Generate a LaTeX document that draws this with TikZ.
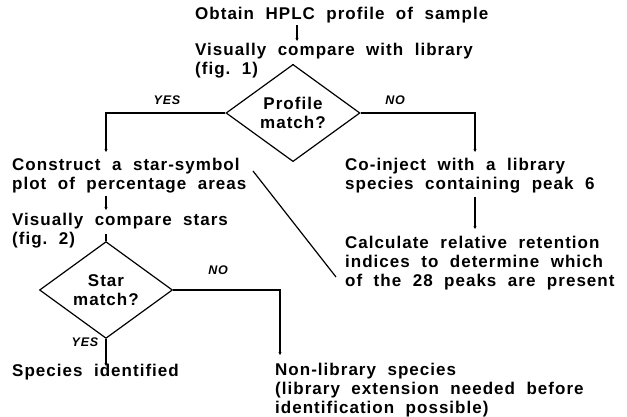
\documentclass[tikz,border=0pt]{standalone}
\usepackage{fontspec}
\setmainfont{Liberation Sans}[WordSpace=2.0, LetterSpace=6]
\usetikzlibrary{shapes.geometric,arrows.meta}
\begin{document}
\begin{tikzpicture}[x=1pt,y=-1pt,
  every node/.style={font=\bfseries\fontsize{17}{19.2}\selectfont, inner sep=0pt},
  txt/.style={anchor=west, align=left},
  decision/.style={draw, shape=diamond, line width=1.2pt, align=center,
                   minimum width=#1, inner sep=0pt},
  lbl/.style={font=\bfseries\itshape\fontsize{12.5}{14}\selectfont},
  link/.style={line width=1.2pt},
  arr/.style={line width=1.2pt, -{Stealth[length=3pt,width=3pt]}}]
\useasboundingbox (0,0) rectangle (627,417);

% top of the flow
\node[txt] (obtain) at (195,15) {Obtain HPLC profile of sample};
\node[txt] (vcl) at (195,61) {Visually compare with library\\(fig.\ 1)};
\node[decision=134pt, minimum height=74pt] (pm) at (293,113) {Profile\\match?};
\node[lbl] at (167,100) {YES};
\node[lbl] at (395,100) {NO};

% left branch
\node[txt] (star) at (12,176) {Construct a star-symbol\\plot of percentage areas};
\node[txt] (vcs) at (12,231) {Visually compare stars\\(fig.\ 2)};
\node[decision=133pt, minimum height=70pt] (sm) at (106,290) {Star\\match?};
\node[lbl] at (85,342) {YES};
\node[lbl] at (218,270) {NO};
\node[txt] (ident) at (12,372) {Species identified};
\node[txt] (nonlib) at (275,390) {Non-library species\\(library extension needed before\\identification possible)};

% right branch
\node[txt] (coinj) at (345,176) {Co-inject with a library\\species containing peak 6};
\node[txt] (calc) at (345,263) {Calculate relative retention\\indices to determine which\\of the 28 peaks are present};

% connectors
\coordinate (a1) at (297,25);
\coordinate (a2) at (297,41);
\draw[arr] (a1) -- (a2);
\coordinate (t1) at (pm.north |- 0,64);
\draw[link] (t1) -- (pm.north);
\coordinate (lc) at (106,152);
\draw[arr] (pm.west) -| (lc);
\coordinate (rc) at (475,152);
\draw[arr] (pm.east) -| (rc);
\coordinate (b1) at (106,196);
\coordinate (b2) at (106,210);
\draw[arr] (b1) -- (b2);
\coordinate (s1) at (106,234);
\draw[link] (s1) -- (sm.north);
\coordinate (ye) at (106,366);
\draw[arr] (sm.south) -- (ye);
\coordinate (ne) at (280,355);
\draw[arr] (sm.east) -| (ne);
\coordinate (r1) at (475,197);
\coordinate (r2) at (475,229);
\draw[arr] (r1) -- (r2);
\coordinate (d1) at (253,171);
\coordinate (d2) at (336,277);
\draw[link] (d1) -- (d2);
\end{tikzpicture}
\end{document}
